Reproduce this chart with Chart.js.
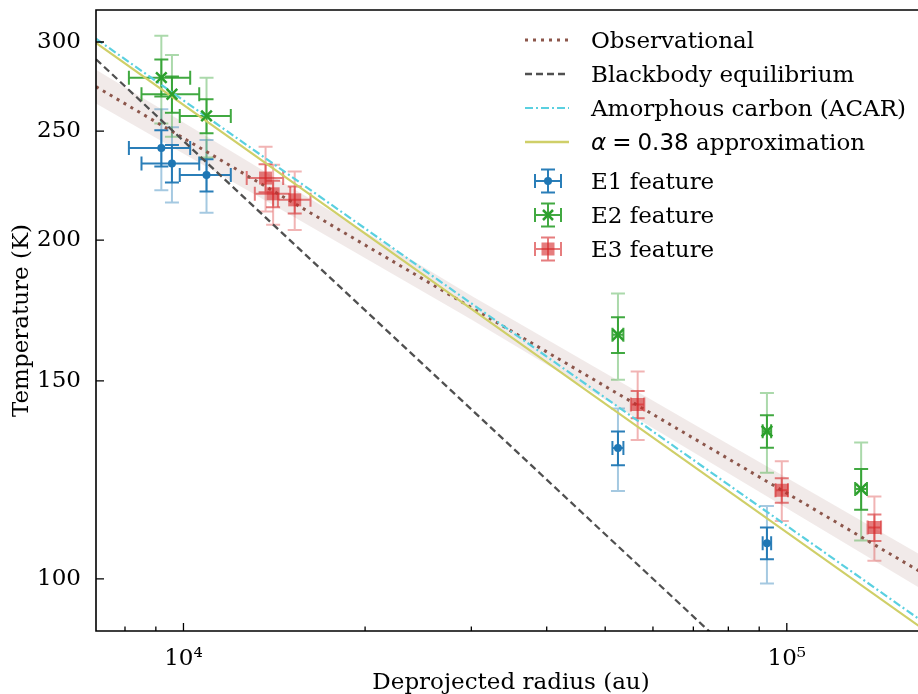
<!DOCTYPE html>
<html>
<head>
<meta charset="utf-8">
<script src="https://cdn.jsdelivr.net/npm/chart.js@4.4.0/dist/chart.umd.min.js"></script>
<style>
  html, body { margin: 0; padding: 0; background: #fff; overflow: hidden; }
  #wrap { position: relative; width: 936px; height: 700px; }
</style>
</head>
<body>
<div id="wrap"><canvas id="chart"></canvas></div>
<script>
// values: radius in au, temperature in K
const e1Radius = [9190, 9570, 10920, 52500, 92700];
const e1Temp = [241.5, 234.0, 228.5, 130.7, 107.6];
const e1RadiusErr = [1070, 1050, 1060, 1100, 1500];
const e1TempErr = [9, 9, 7.5, 4.5, 3.5];
const e1TempErrSys = [20, 18, 17, 11, 8.5];

const e2Radius = [9190, 9570, 10920, 52500, 92700, 132800];
const e2Temp = [278.9, 269.6, 257.9, 164.8, 135.3, 120.2];
const e2RadiusErr = [1070, 1050, 1060, 1100, 1500, 3000];
const e2TempErr = [10.5, 10, 9, 6, 4.5, 5];
const e2TempErrSys = [25, 22.5, 21, 14.5, 11, 12];

const e3Radius = [13680, 14080, 15290, 56600, 98100, 139700];
const e3Temp = [227.1, 219.9, 217.2, 142.9, 119.9, 111.1];
const e3RadiusErr = [950, 950, 950, 1450, 2350, 3600];
const e3TempErr = [6.5, 6, 6, 4, 3, 3];
const e3TempErrSys = [15, 13.5, 13, 10, 7.3, 7.3];

// model lines (straight in log-log, so two ends are enough)
const lineRadius = [7162, 170100];
const obsTemp = [273.8, 100.8];
const blackbodyTemp = [289.6, 59.4];
const acarTemp = [302.0, 91.2];
const approxTemp = [299.4, 89.9];

// uncertainty band of the observational fit
const bandRadius = [7162, 15000, 30000, 70000, 170100];
const bandLow = [264.5, 210.8, 170.0, 129.6, 97.4];
const bandHigh = [283.5, 223.2, 178.5, 137.3, 104.4];

const yTicks = [100, 150, 200, 250, 300];
const xMajor = [1e4, 1e5];
const xMinor = [8000, 9000, 20000, 30000, 40000, 50000, 60000, 70000, 80000, 90000];

const SERIF = '"DejaVu Serif", serif';
const SANS = '"DejaVu Sans", sans-serif';

const toPoints = (xs, ys) => xs.map((v, i) => ({ x: v, y: ys[i] }));

const errSeries = [
  { r: e1Radius, t: e1Temp, rErr: e1RadiusErr, tErr: e1TempErr, tSys: e1TempErrSys, rgb: '31,119,180', a: 0.95, aSys: 0.4 },
  { r: e2Radius, t: e2Temp, rErr: e2RadiusErr, tErr: e2TempErr, tSys: e2TempErrSys, rgb: '44,160,44', a: 0.9, aSys: 0.4 },
  { r: e3Radius, t: e3Temp, rErr: e3RadiusErr, tErr: e3TempErr, tSys: e3TempErrSys, rgb: '214,39,40', a: 0.6, aSys: 0.35 }
];

const CAP = 7;

const vBar = (ctx, x, y1, y2) => {
  ctx.beginPath();
  ctx.moveTo(x, y1); ctx.lineTo(x, y2);
  ctx.moveTo(x - CAP, y1); ctx.lineTo(x + CAP, y1);
  ctx.moveTo(x - CAP, y2); ctx.lineTo(x + CAP, y2);
  ctx.stroke();
};
const hBar = (ctx, x1, x2, y) => {
  ctx.beginPath();
  ctx.moveTo(x1, y); ctx.lineTo(x2, y);
  ctx.moveTo(x1, y - CAP); ctx.lineTo(x1, y + CAP);
  ctx.moveTo(x2, y - CAP); ctx.lineTo(x2, y + CAP);
  ctx.stroke();
};

const errorBars = {
  id: 'errorBars',
  beforeDatasetDraw(chart, args) {
    if (args.index !== 2) return;
    const { ctx, chartArea: a, scales: { x, y } } = chart;
    ctx.save();
    ctx.beginPath();
    ctx.rect(a.left, a.top, a.right - a.left, a.bottom - a.top);
    ctx.clip();
    ctx.lineWidth = 2;
    errSeries.forEach(s => {
      s.r.forEach((r, i) => {
        const px = x.getPixelForValue(r);
        const py = y.getPixelForValue(s.t[i]);
        ctx.strokeStyle = `rgba(${s.rgb},${s.aSys})`;
        vBar(ctx, px, y.getPixelForValue(s.t[i] + s.tSys[i]), y.getPixelForValue(s.t[i] - s.tSys[i]));
        ctx.strokeStyle = `rgba(${s.rgb},${s.a})`;
        vBar(ctx, px, y.getPixelForValue(s.t[i] + s.tErr[i]), y.getPixelForValue(s.t[i] - s.tErr[i]));
        hBar(ctx, x.getPixelForValue(r - s.rErr[i]), x.getPixelForValue(r + s.rErr[i]), py);
      });
    });
    ctx.restore();
  }
};

// spines and inward ticks
const frame = {
  id: 'frame',
  afterDraw(chart) {
    const { ctx, chartArea: a, scales: { x, y } } = chart;
    ctx.save();
    ctx.strokeStyle = '#000';
    ctx.lineWidth = 1.6;
    ctx.beginPath();
    ctx.moveTo(a.left, a.top); ctx.lineTo(a.right, a.top);
    ctx.lineTo(a.right, a.bottom); ctx.lineTo(a.left, a.bottom); ctx.closePath();
    ctx.stroke();
    ctx.lineWidth = 1.3;
    ctx.beginPath();
    xMajor.forEach(v => { const p = x.getPixelForValue(v); ctx.moveTo(p, a.bottom); ctx.lineTo(p, a.bottom - 8); });
    xMinor.forEach(v => { const p = x.getPixelForValue(v); ctx.moveTo(p, a.bottom); ctx.lineTo(p, a.bottom - 4.5); });
    yTicks.forEach(v => { const p = y.getPixelForValue(v); ctx.moveTo(a.left, p); ctx.lineTo(a.left + 8, p); });
    ctx.stroke();
    ctx.restore();
  }
};

const legendRows = [
  { label: 'Observational', kind: 'line', color: '#8c564b', width: 3, dash: [3, 5] },
  { label: 'Blackbody equilibrium', kind: 'line', color: '#505050', width: 2.3, dash: [7, 4] },
  { label: 'Amorphous carbon (ACAR)', kind: 'line', color: '#5ad0e0', width: 2.2, dash: [8, 3, 2, 3] },
  { label: 'approx', kind: 'line', color: '#cfcf68', width: 2.5, dash: [] },
  { label: 'E1 feature', kind: 'err', s: 0, marker: 'circle' },
  { label: 'E2 feature', kind: 'err', s: 1, marker: 'x' },
  { label: 'E3 feature', kind: 'err', s: 2, marker: 'square' }
];
const legendY = [40, 74, 108, 142, 181, 215, 249];

const drawMarker = (ctx, kind, x, y, rgb) => {
  if (kind === 'circle') {
    ctx.fillStyle = `rgb(${rgb})`;
    ctx.beginPath(); ctx.arc(x, y, 4, 0, Math.PI * 2); ctx.fill();
  } else if (kind === 'x') {
    ctx.strokeStyle = `rgb(${rgb})`;
    ctx.lineWidth = 2.5;
    ctx.beginPath();
    ctx.moveTo(x - 5, y - 5); ctx.lineTo(x + 5, y + 5);
    ctx.moveTo(x - 5, y + 5); ctx.lineTo(x + 5, y - 5);
    ctx.stroke();
  } else {
    ctx.fillStyle = `rgba(${rgb},0.6)`;
    ctx.fillRect(x - 6.5, y - 6.5, 13, 13);
  }
};

const legendBox = {
  id: 'legendBox',
  afterDraw(chart) {
    const ctx = chart.ctx;
    ctx.save();
    legendRows.forEach((row, i) => {
      const yy = legendY[i];
      if (row.kind === 'line') {
        ctx.strokeStyle = row.color;
        ctx.lineWidth = row.width;
        ctx.setLineDash(row.dash);
        ctx.beginPath(); ctx.moveTo(525, yy); ctx.lineTo(569, yy); ctx.stroke();
        ctx.setLineDash([]);
      } else {
        const s = errSeries[row.s];
        ctx.lineWidth = 2;
        ctx.strokeStyle = `rgba(${s.rgb},${s.a})`;
        hBar(ctx, 535, 561, yy);
        vBar(ctx, 548, yy - 11.5, yy + 11.5);
        drawMarker(ctx, row.marker, 548, yy, s.rgb);
      }
      ctx.fillStyle = '#000';
      ctx.textBaseline = 'alphabetic';
      const base = yy + 8;
      if (row.label === 'approx') {
        let tx = 591;
        ctx.font = `italic 23px ${SANS}`;
        ctx.fillText('α', tx, base); tx += ctx.measureText('α').width + 6;
        ctx.font = `23px ${SANS}`;
        ctx.fillText('=', tx, base); tx += ctx.measureText('=').width + 6;
        ctx.fillText('0.38', tx, base); tx += ctx.measureText('0.38').width;
        ctx.font = `23px ${SERIF}`;
        ctx.fillText(' approximation', tx, base);
      } else {
        ctx.font = `23px ${SERIF}`;
        ctx.fillText(row.label, 591, base);
      }
    });
    ctx.restore();
  }
};

new Chart(document.getElementById('chart'), {
  type: 'scatter',
  data: {
    datasets: [
      { label: 'E1 feature', data: toPoints(e1Radius, e1Temp), pointStyle: 'circle', pointRadius: 4, backgroundColor: '#1f77b4', borderWidth: 0, order: 1 },
      { label: 'E2 feature', data: toPoints(e2Radius, e2Temp), pointStyle: 'crossRot', pointRadius: 7.5, borderColor: '#2ca02c', borderWidth: 2.5, order: 2 },
      { label: 'Observational', type: 'line', data: toPoints(lineRadius, obsTemp), borderColor: '#8c564b', borderWidth: 3, borderDash: [3, 5], pointRadius: 0, fill: false, order: 8 },
      { label: 'Blackbody equilibrium', type: 'line', data: toPoints(lineRadius, blackbodyTemp), borderColor: '#505050', borderWidth: 2.3, borderDash: [7, 4], pointRadius: 0, fill: false, order: 7 },
      { label: 'Amorphous carbon (ACAR)', type: 'line', data: toPoints(lineRadius, acarTemp), borderColor: '#5ad0e0', borderWidth: 2.2, borderDash: [8, 3, 2, 3], pointRadius: 0, fill: false, order: 6 },
      { label: 'alpha approx', type: 'line', data: toPoints(lineRadius, approxTemp), borderColor: '#cfcf68', borderWidth: 2.2, pointRadius: 0, fill: false, order: 5 },
      { label: 'band low', type: 'line', data: toPoints(bandRadius, bandLow), borderWidth: 0, pointRadius: 0, fill: false, order: 10 },
      { label: 'band high', type: 'line', data: toPoints(bandRadius, bandHigh), borderWidth: 0, pointRadius: 0, fill: '-1', backgroundColor: 'rgba(140,86,75,0.12)', order: 10 },
      { label: 'E3 feature', data: toPoints(e3Radius, e3Temp), pointStyle: 'rect', pointRadius: 9.2, backgroundColor: 'rgba(214,39,40,0.6)', borderWidth: 0, order: 3 }
    ]
  },
  options: {
    responsive: true,
    maintainAspectRatio: false,
    animation: false,
    events: [],
    layout: { padding: { top: 9, right: 4, left: 0, bottom: 0 } },
    plugins: { legend: { display: false }, tooltip: { enabled: false } },
    scales: {
      x: {
        type: 'logarithmic',
        min: 7162,
        max: 170100,
        grid: { display: false },
        border: { display: false },
        afterBuildTicks: s => { s.ticks = xMajor.map(v => ({ value: v })); },
        afterFit: s => { s.height = 69; s.paddingLeft = 0; s.paddingRight = 0; },
        ticks: {
          autoSkip: false, maxRotation: 0, padding: 6,
          color: '#000', font: { family: SERIF, size: 23 },
          callback: v => (v === 1e4 ? '10⁴' : '10⁵')
        },
        title: { display: true, text: 'Deprojected radius (au)', color: '#000', font: { family: SERIF, size: 23 }, padding: { top: 0, bottom: 3 } }
      },
      y: {
        type: 'logarithmic',
        min: 89.9,
        max: 320.3,
        grid: { display: false },
        border: { display: false },
        afterBuildTicks: s => { s.ticks = yTicks.map(v => ({ value: v })); },
        afterFit: s => { s.width = 96; s.paddingTop = 0; s.paddingBottom = 0; },
        ticks: {
          autoSkip: false, padding: 7,
          color: '#000', font: { family: SERIF, size: 23 },
          callback: v => String(v)
        },
        title: { display: true, text: 'Temperature (K)', color: '#000', font: { family: SERIF, size: 23 }, padding: { top: 8, bottom: 0 } }
      }
    }
  },
  plugins: [errorBars, frame, legendBox]
});
</script>
</body>
</html>
